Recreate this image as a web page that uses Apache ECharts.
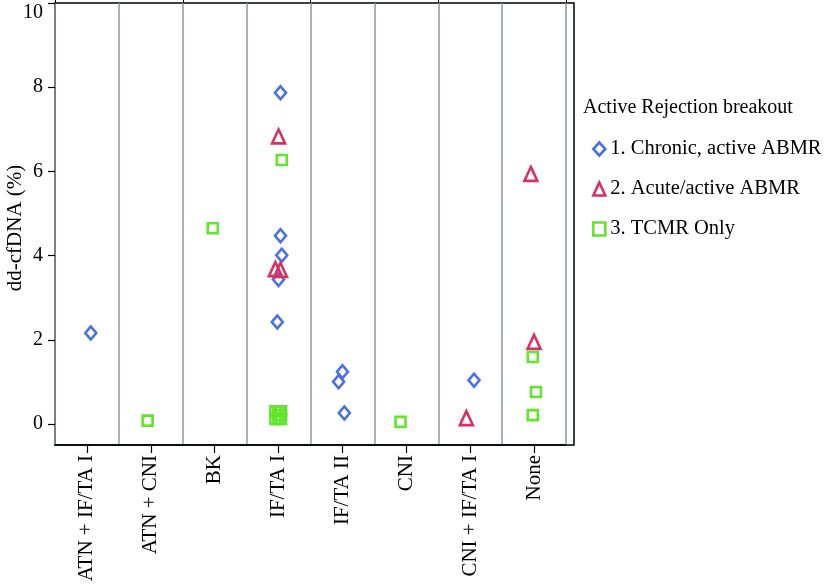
<!DOCTYPE html>
<html>
<head>
<meta charset="utf-8">
<script src="https://cdn.jsdelivr.net/npm/echarts@6/dist/echarts.min.js"></script>
<style>html,body{margin:0;padding:0;background:#fff}#c{width:825px;height:585px}</style>
</head>
<body>
<div id="c"></div>
<script>
const categories = ['ATN + IF/TA I','ATN + CNI','BK','IF/TA I','IF/TA II','CNI','CNI + IF/TA I','None'];
const yTicks = [0, 2, 4, 6, 8, 10];
const seriesNames = ['1. Chronic, active ABMR', '2. Acute/active ABMR', '3. TCMR Only'];

const chronicCat    = [0, 3, 3, 3, 3, 3, 4, 4, 4, 6];
const chronicJitter = [0.06, 0.03, 0.03, 0.05, 0, -0.02, 0, -0.06, 0.03, 0.06];
const chronicVal    = [2.16, 7.87, 4.47, 4.01, 3.43, 2.42, 1.24, 1.0, 0.26, 1.04];

const acuteCat    = [3, 3, 3, 6, 7, 7];
const acuteJitter = [0, -0.05, 0.03, -0.06, -0.05, 0];
const acuteVal    = [6.83, 3.68, 3.66, 0.14, 5.94, 1.95];

const tcmrCat    = [1, 2, 3, 3, 3, 3, 3, 3, 3, 3, 5, 7, 7, 7];
const tcmrJitter = [-0.05, -0.03, 0.05, -0.05, 0.04, -0.05, 0.04, 0, 0, 0, -0.09, -0.02, 0.03, -0.02];
const tcmrVal    = [0.08, 4.65, 6.27, 0.3, 0.3, 0.12, 0.12, 0.21, 0.3, 0.12, 0.05, 1.59, 0.76, 0.21];

function pts(cat, jit, val) { return cat.map((c, i) => [c + 0.5 + jit[i], val[i]]); }

const FONT = 'Liberation Serif, Times New Roman, serif';
const chart = echarts.init(document.getElementById('c'), null, {renderer: 'canvas'});
chart.setOption({
  animation: false,
  backgroundColor: '#fff',
  title: {
    text: 'Active Rejection breakout', left: 578, top: 93,
    textStyle: {fontFamily: FONT, fontSize: 20, fontWeight: 'normal', color: '#000'}
  },
  legend: {
    orient: 'vertical', left: 587, top: 133, itemWidth: 12, itemHeight: 13, itemGap: 18,
    data: seriesNames,
    itemStyle: {borderWidth: 2.6},
    textStyle: {fontFamily: FONT, fontSize: 20.5, color: '#000', lineHeight: 22}
  },
  graphic: [{
    type: 'text', x: 15, y: 228, rotation: Math.PI / 2,
    style: {text: 'dd-cfDNA (%)', font: '21px ' + FONT, fill: '#000', textAlign: 'center', textVerticalAlign: 'middle'}
  }],
  grid: [
    {left: 55, top: 3, width: 511, height: 442, show: false, outerBoundsMode: 'none', containLabel: false},
    {left: 55, top: 3, width: 519, height: 442, show: true, borderColor: '#000', borderWidth: 1.5, backgroundColor: 'transparent', outerBoundsMode: 'none', containLabel: false},
    {left: 55, top: 3, width: 519, height: 421, show: false, outerBoundsMode: 'none', containLabel: false}
  ],
  xAxis: [
    {type: 'category', gridIndex: 0, data: categories, boundaryGap: true,
     axisLine: {show: true, onZero: false, lineStyle: {color: '#000', width: 1.5}},
     axisTick: {show: true, alignWithLabel: true, length: 8, lineStyle: {color: '#000', width: 1.2}},
     axisLabel: {rotate: 90, margin: 10, fontFamily: FONT, fontSize: 21, color: '#000', interval: 0},
     splitLine: {show: true, lineStyle: {color: '#8e9a96', width: 1.5}}},
    {type: 'category', gridIndex: 0, data: categories, boundaryGap: true,
     axisLine: {show: false, onZero: false}, axisTick: {show: true, length: 3, lineStyle: {color: '#000', width: 1}},
     axisLabel: {show: false}, splitLine: {show: false}},
    {type: 'value', gridIndex: 0, min: 0, max: 8, show: false},
    {type: 'value', gridIndex: 1, min: 0, max: 1, show: false},
    {type: 'value', gridIndex: 2, min: 0, max: 1, show: false}
  ],
  yAxis: [
    {type: 'value', gridIndex: 0, min: -0.5, max: 10, show: false},
    {type: 'value', gridIndex: 1, min: 0, max: 1, show: false},
    {type: 'value', gridIndex: 2, min: yTicks[0], max: yTicks[yTicks.length - 1], interval: 2,
     axisLine: {show: false, onZero: false},
     axisTick: {show: true, length: 7, lineStyle: {color: '#000', width: 1.2}},
     axisLabel: {margin: 12, fontFamily: FONT, fontSize: 20, color: '#000', verticalAlignMaxLabel: 'top'},
     splitLine: {show: false}}
  ],
  series: [
    {name: seriesNames[0], type: 'scatter', xAxisIndex: 2, yAxisIndex: 0, symbol: 'diamond', symbolSize: [11, 13],
     itemStyle: {color: 'rgba(255,255,255,0)', borderColor: '#4a70e6', borderWidth: 2.6, opacity: 1},
     data: pts(chronicCat, chronicJitter, chronicVal)},
    {name: seriesNames[1], type: 'scatter', xAxisIndex: 2, yAxisIndex: 0, symbol: 'triangle', symbolSize: [13, 14],
     itemStyle: {color: 'rgba(255,255,255,0)', borderColor: '#da2f62', borderWidth: 2.6, opacity: 1},
     data: pts(acuteCat, acuteJitter, acuteVal)},
    {name: seriesNames[2], type: 'scatter', xAxisIndex: 2, yAxisIndex: 0, symbol: 'rect', symbolSize: 10,
     itemStyle: {color: 'rgba(255,255,255,0)', borderColor: '#62e52d', borderWidth: 2.6, opacity: 1},
     data: pts(tcmrCat, tcmrJitter, tcmrVal)}
  ]
});
</script>
</body>
</html>
